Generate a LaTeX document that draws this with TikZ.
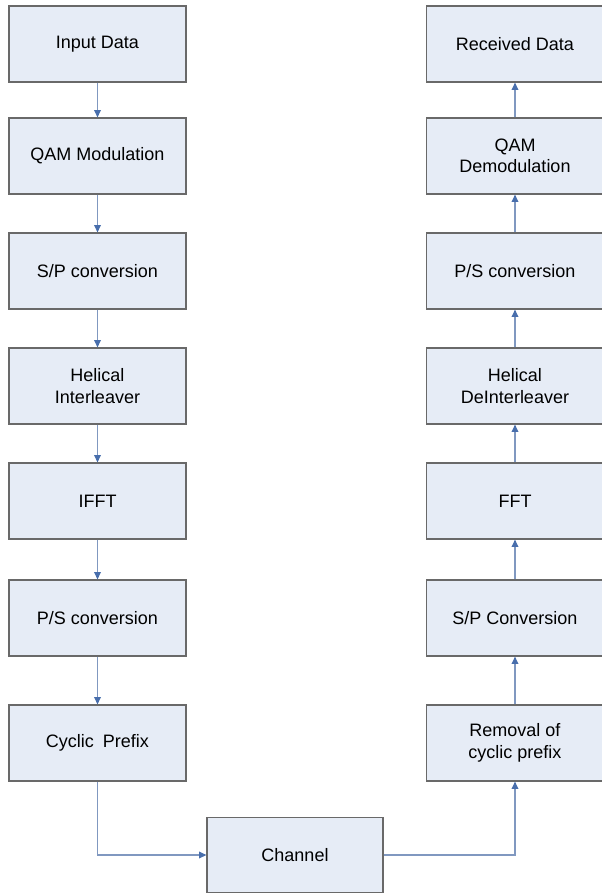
\documentclass[tikz,border=0pt]{standalone}
\usepackage{fontspec}
\setmainfont{Liberation Sans}
\usetikzlibrary{arrows.meta}
\definecolor{boxfill}{RGB}{230,236,246}
\definecolor{boxline}{RGB}{105,105,105}
\definecolor{flowblue}{RGB}{128,152,192}
\definecolor{tipblue}{RGB}{72,110,172}

\begin{document}
\begin{tikzpicture}[x=0.75pt, y=-0.75pt,
    block/.style={draw=boxline, line width=0.9pt, fill=boxfill, minimum width=132.75pt,
        minimum height=57pt, align=center, inner sep=2pt,
        font=\fontsize{13.5}{16}\selectfont},
    flow/.style={draw=flowblue, line width=1pt, -{Triangle[length=5.5pt, width=5pt, color=tipblue]}}]
    \useasboundingbox (0,0) rectangle (601,893);

    % Transmitter chain
    \foreach \n/\y/\txt in {tx1/44/Input Data, tx2/156/QAM Modulation, tx3/271/{S/P conversion},
        tx4/386/Helical\\Interleaver, tx5/501/IFFT, tx6/618/{P/S conversion}, tx7/743/Cyclic\enspace Prefix} {
        \node[block] (\n) at (97.5,\y) {\txt};
    }

    % Receiver chain
    \foreach \n/\y/\txt in {rx1/44/Received Data, rx2/156/QAM\\Demodulation, rx3/271/{P/S conversion},
        rx4/386/Helical\\DeInterleaver, rx5/501/FFT, rx6/618/{S/P Conversion}, rx7/743/Removal of\\cyclic prefix} {
        \node[block] (\n) at (515,\y) {\txt};
    }

    \node[block, minimum width=132pt, minimum height=56pt] (chan) at (295,855) {Channel};

    % Connectors
    \foreach \a/\b in {tx1/tx2, tx2/tx3, tx3/tx4, tx4/tx5, tx5/tx6, tx6/tx7} {
        \draw[flow] (\a) -- (\b);
    }
    \foreach \a/\b in {rx7/rx6, rx6/rx5, rx5/rx4, rx4/rx3, rx3/rx2, rx2/rx1} {
        \draw[flow] (\a) -- (\b);
    }
    \draw[flow] (tx7.south) |- (chan.west);
    \draw[flow] (chan.east) -| (rx7.south);
\end{tikzpicture}
\end{document}
